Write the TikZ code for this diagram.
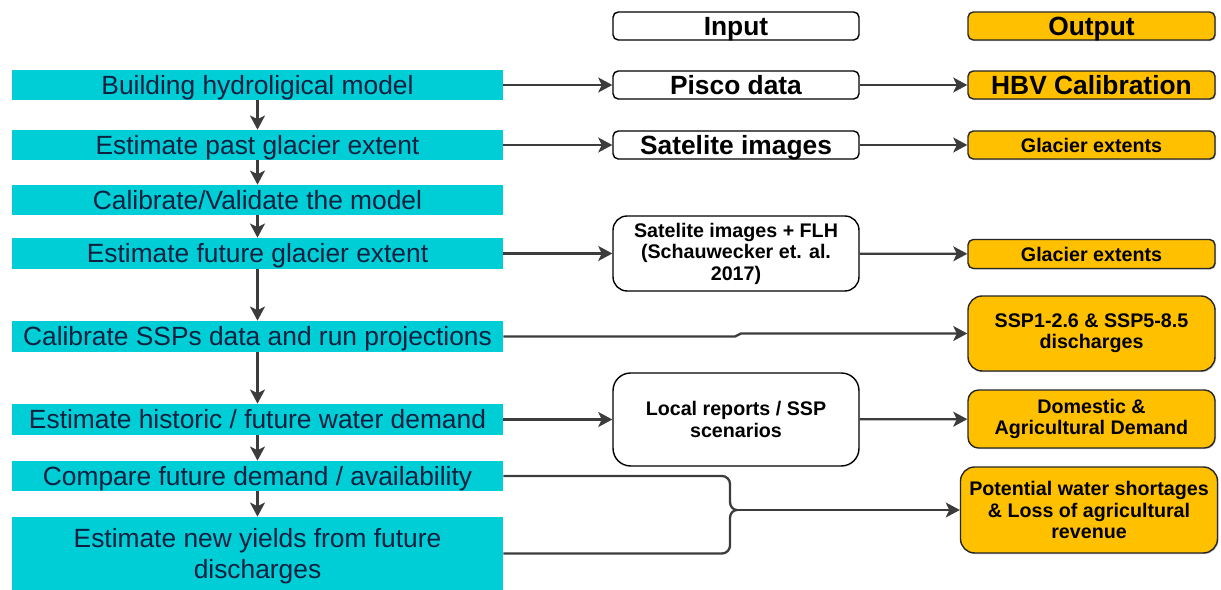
\documentclass[tikz,border=0pt]{standalone}
\usepackage{fontspec}
\setmainfont{Liberation Sans}
\usetikzlibrary{arrows.meta,shadows}
\definecolor{boxcyan}{RGB}{0,206,214}
\definecolor{outgold}{RGB}{255,192,0}
\definecolor{stepnavy}{RGB}{14,32,64}
\definecolor{linegray}{RGB}{60,60,60}

\begin{document}
\begin{tikzpicture}[x=0.02cm, y=0.02cm, >={Stealth[length=8pt,width=8.5pt,inset=2pt]}, line join=round,
	stepbox/.style={fill=boxcyan, text=stepnavy, minimum width=9.82cm, inner sep=0pt, font=\fontsize{15}{17.5}\selectfont, align=center, text height=10.8pt, text depth=0pt},
	inbox/.style={draw=black, fill=white, rounded corners=3pt, line width=0.8pt, minimum width=4.92cm, inner sep=0pt, font=\bfseries\fontsize{11.2}{12.2}\selectfont, align=center, text height=8pt, text depth=0pt},
	outbox/.style={inbox, fill=outgold, draw=black!85, minimum width=4.94cm, drop shadow={shadow xshift=0.6pt, shadow yshift=-0.6pt, fill=black!45}},
	big/.style={font=\bfseries\fontsize{15}{17}\selectfont, text height=10.8pt},
	multi/.style={text height={}, text depth={}},
	link/.style={draw=linegray, line width=1.3pt}]
	\def\xl{257.5} \def\xi{736} \def\xo{1091.5} % column centres
	\useasboundingbox (0,0) rectangle (1221,-590);
	
	% steps
	\node[stepbox, minimum height=0.6cm] (build) at (\xl,-85) {Building hydroligical model};
	\node[stepbox, minimum height=0.6cm] (past) at (\xl,-145) {Estimate past glacier extent};
	\node[stepbox, minimum height=0.6cm] (calib) at (\xl,-200) {Calibrate/Validate the model};
	\node[stepbox, minimum height=0.62cm] (future) at (\xl,-253.5) {Estimate future glacier extent};
	\node[stepbox, minimum height=0.62cm] (ssps) at (\xl,-336.5) {Calibrate SSPs data and run projections};
	\node[stepbox, minimum height=0.62cm] (demand) at (\xl,-419.5) {Estimate historic / future water demand};
	\node[stepbox, minimum height=0.6cm] (compare) at (\xl,-476) {Compare future demand / availability};
	\node[stepbox, text height=28.3pt, minimum height=1.46cm] (yields) at (\xl,-553.5) {Estimate new yields from future\\discharges};
	
	% input
	\node[inbox, big, minimum height=0.56cm] (input) at (\xi,-26) {Input};
	\node[inbox, big, minimum height=0.56cm] (pisco) at (\xi,-85) {Pisco data};
	\node[inbox, big, minimum height=0.56cm] (sat) at (\xi,-145) {Satelite images};
	\node[inbox, multi, minimum height=1.5cm, rounded corners=8pt] (flh) at (\xi,-253.5) {Satelite images + FLH\\(Schauwecker et. al.\\2017)};
	\node[inbox, multi, minimum height=1.86cm, rounded corners=10pt] (local) at (\xi,-419.5) {Local reports / SSP\\scenarios};
	
	% output
	\node[outbox, big, minimum height=0.56cm] (output) at (\xo,-26) {Output};
	\node[outbox, big, minimum height=0.56cm] (hbv) at (\xo,-85) {HBV Calibration};
	\node[outbox, minimum height=0.56cm] (glac) at (\xo,-145) {Glacier extents};
	\node[outbox, minimum height=0.58cm] (glacf) at (\xo,-254) {Glacier extents};
	\node[outbox, multi, minimum height=1.5cm, rounded corners=8pt] (sspout) at (\xo,-333.5) {SSP1-2.6 \& SSP5-8.5\\discharges};
	\node[outbox, multi, minimum height=1.16cm, rounded corners=6pt] (dom) at (\xo,-419) {Domestic \&\\Agricultural Demand};
	\node[outbox, multi, minimum height=1.72cm, minimum width=5.14cm, rounded corners=8pt] (short) at (1089,-510) {Potential water shortages\\\& Loss of agricultural\\revenue};
	
	\foreach \a/\b in {build/past, past/calib, calib/future, future/ssps, ssps/demand, demand/compare, compare/yields} \draw[link,->] (\a) -- (\b);
	\foreach \a/\b in {build/pisco, pisco/hbv, past/sat, sat/glac, future/flh, flh/glacf, demand/local, local/dom} \draw[link,->] (\a) -- (\b);
	\draw[link,->] (ssps.east) -- (735,-336.5) -- (741,-333.5) -- (sspout.west);
	
	% brace
	\coordinate (tip) at (737,-510);
	\draw[link] (compare.east) -- (722,-476) to[out=0,in=90] (730,-484) -- (730,-502) to[out=-90,in=180] (tip) to[out=180,in=90] (730,-518) -- (730,-545.5) to[out=-90,in=0] (722,-553.5) -- (yields.east);
	\draw[link,->] (tip) -- (short);
\end{tikzpicture}
\end{document}
